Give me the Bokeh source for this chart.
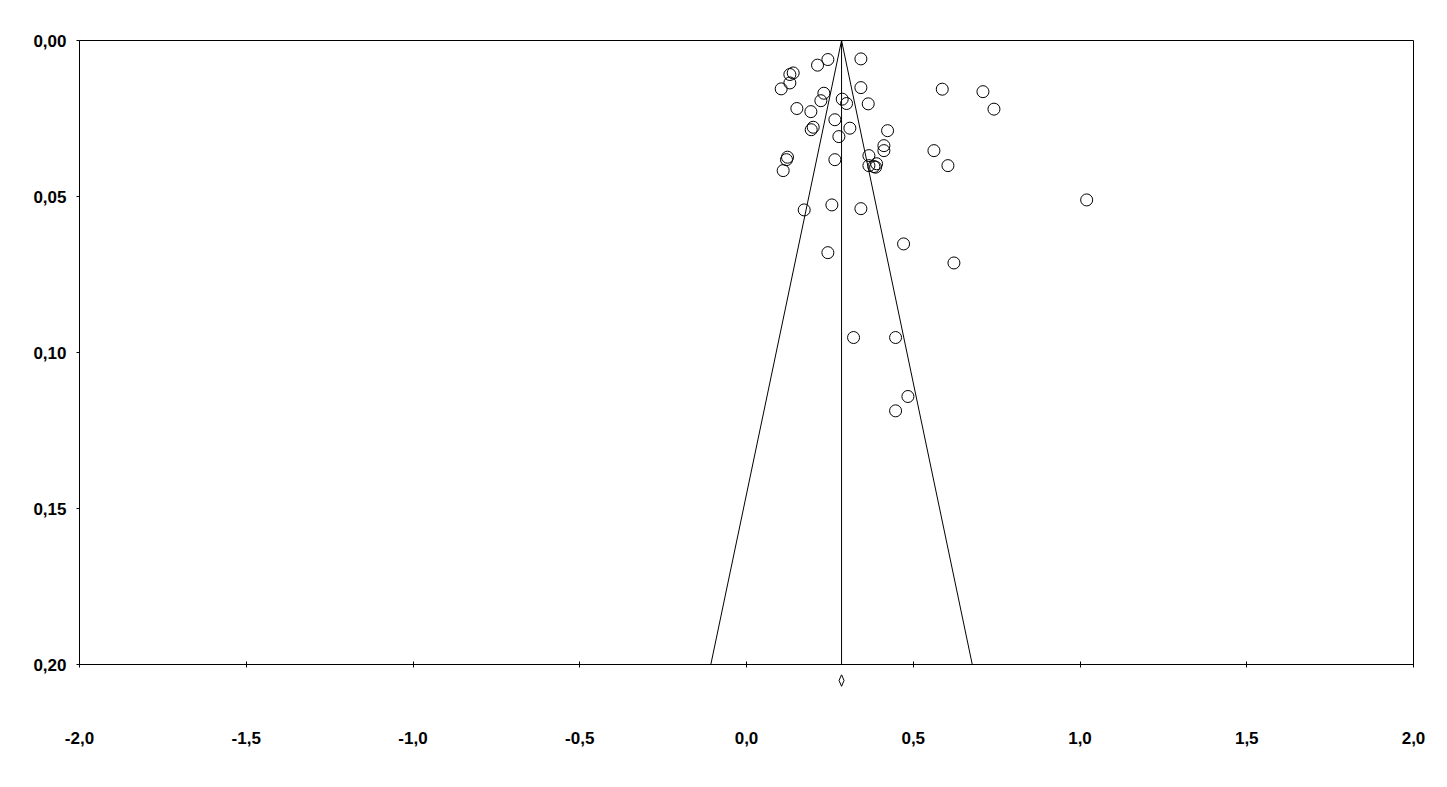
from bokeh.plotting import figure
from bokeh.layouts import column
from bokeh.models import Range1d, FixedTicker
from bokeh.embed import file_html
from bokeh.resources import INLINE

# Effect estimates (x) and standard errors (y)
effect = [0.244, 0.213, 0.343, 0.140, 0.130, 0.130, 0.104, 0.343, 0.587, 0.709,
          0.232, 0.223, 0.287, 0.300, 0.365, 0.742, 0.151, 0.193, 0.265, 0.200,
          0.194, 0.310, 0.423, 0.277, 0.412, 0.412, 0.562, 0.367, 0.123, 0.120,
          0.265, 0.604, 0.110, 0.367, 0.382, 0.390, 0.387, 0.173, 0.256, 0.343,
          0.471, 0.244, 0.622, 0.321, 0.447, 0.484, 0.447, 1.020]
std_err = [0.0061, 0.0079, 0.0059, 0.0104, 0.0109, 0.0136, 0.0155, 0.0151, 0.0156, 0.0164,
           0.0169, 0.0193, 0.0188, 0.0202, 0.0203, 0.0220, 0.0218, 0.0228, 0.0254, 0.0278,
           0.0286, 0.0281, 0.0289, 0.0308, 0.0337, 0.0353, 0.0353, 0.0369, 0.0374, 0.0382,
           0.0382, 0.0401, 0.0417, 0.0401, 0.0404, 0.0395, 0.0406, 0.0543, 0.0527, 0.0539,
           0.0652, 0.0680, 0.0713, 0.0952, 0.0952, 0.1141, 0.1187, 0.0511]

pooled = 0.285          # pooled estimate
pooled_lo = 0.2775      # diamond lower bound
pooled_hi = 0.2925      # diamond upper bound
z_crit = 1.96
se_max = 0.20

x_ticks = [-2.0, -1.5, -1.0, -0.5, 0.0, 0.5, 1.0, 1.5, 2.0]
x_labels = ["-2,0", "-1,5", "-1,0", "-0,5", "0,0", "0,5", "1,0", "1,5", "2,0"]
y_ticks = [0.0, 0.05, 0.10, 0.15, 0.20]
y_labels = ["0,00", "0,05", "0,10", "0,15", "0,20"]

W = 1439
H1 = 674
H2 = 105
FONT = "Liberation Sans"
FSIZE = "17px"

xr = Range1d(x_ticks[0], x_ticks[-1])

p = figure(width=W, height=H1, output_backend="svg", toolbar_location=None,
           x_range=xr, y_range=Range1d(se_max, 0.0),
           min_border_left=79, min_border_right=26, min_border_top=40, min_border_bottom=H1 - 664)
p.grid.visible = False
p.outline_line_color = "black"
p.outline_line_width = 1
p.background_fill_color = "white"
p.border_fill_color = "white"

for ax in (p.xaxis[0], p.yaxis[0]):
    ax.axis_line_color = None
    ax.major_tick_line_color = "black"
    ax.minor_tick_line_color = None
    ax.major_label_text_font = FONT
    ax.major_label_text_font_style = "bold"
    ax.major_label_text_font_size = FSIZE
    ax.major_label_text_color = "black"

# x ticks only on the main frame (labels are drawn in the strip below)
p.xaxis[0].ticker = FixedTicker(ticks=x_ticks)
p.xaxis[0].major_label_text_font_size = "1px"
p.xaxis[0].major_label_text_color = None
p.xaxis[0].major_label_standoff = 0
p.xaxis[0].major_tick_in = 3
p.xaxis[0].major_tick_out = 3

p.yaxis[0].ticker = FixedTicker(ticks=y_ticks)
p.yaxis[0].major_label_overrides = {t: l for t, l in zip(y_ticks, y_labels)}
p.yaxis[0].major_tick_in = 0
p.yaxis[0].major_tick_out = 3
p.yaxis[0].major_label_standoff = 10

# funnel
half = z_crit * se_max
p.line([pooled - half, pooled, pooled + half], [se_max, 0.0, se_max], line_color="black", line_width=1)
p.line([pooled, pooled], [0.0, se_max], line_color="black", line_width=1)

# studies
p.scatter(effect, std_err, marker="circle", size=12, fill_color=None,
          line_color="black", line_width=1)

# lower strip: pooled diamond + x tick labels
p2 = figure(width=W, height=H2, output_backend="svg", toolbar_location=None,
            x_range=xr, y_range=Range1d(20, 0), y_axis_location=None,
            min_border_left=79, min_border_right=26, min_border_top=0, min_border_bottom=H2 - 20)
p2.grid.visible = False
p2.outline_line_color = None
p2.background_fill_color = "white"
p2.border_fill_color = "white"
ax2 = p2.xaxis[0]
ax2.ticker = FixedTicker(ticks=x_ticks)
ax2.major_label_overrides = {t: l for t, l in zip(x_ticks, x_labels)}
ax2.axis_line_color = None
ax2.major_tick_line_color = None
ax2.minor_tick_line_color = None
ax2.major_tick_in = 0
ax2.major_tick_out = 0
ax2.major_label_standoff = 37
ax2.major_label_text_font = FONT
ax2.major_label_text_font_style = "bold"
ax2.major_label_text_font_size = FSIZE
ax2.major_label_text_color = "black"

yc, hh = 6.0, 5.8
p2.patch([pooled_lo, pooled, pooled_hi, pooled], [yc, yc - hh, yc, yc + hh],
         fill_color=None, line_color="black", line_width=1)

layout = column(p, p2, spacing=0)
open("out.html", "w").write(file_html(layout, INLINE))
